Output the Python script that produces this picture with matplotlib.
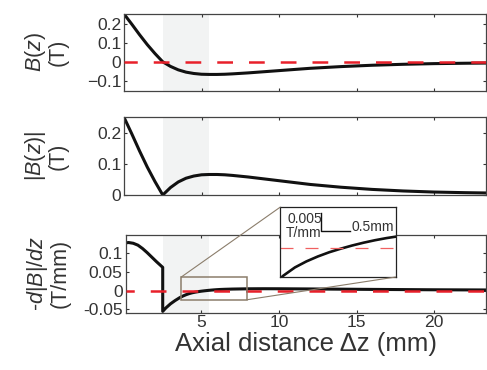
import matplotlib
matplotlib.use('Agg')
import matplotlib.pyplot as plt
from matplotlib.patches import Rectangle, ConnectionPatch

plt.rcParams['font.family'] = ['Liberation Sans', 'DejaVu Sans']
plt.rcParams['mathtext.fontset'] = 'custom'
plt.rcParams['mathtext.rm'] = 'Liberation Sans'
plt.rcParams['mathtext.it'] = 'Liberation Sans:italic'

# axial field B(z) (mm, T)
z_field = [0, 0.5, 1.0, 1.5, 2.0, 2.5, 3.0, 3.5, 4.0, 4.5, 5.0, 5.5, 6.0, 6.5,
           7.0, 8.0, 9.0, 10.0, 11.0, 12.0, 14.0, 16.0, 18.0, 20.0, 22.0, 23.4]
b_field = [0.25, 0.197, 0.142, 0.09, 0.043, 0.0, -0.024, -0.042, -0.054, -0.061,
           -0.065, -0.066, -0.066, -0.065, -0.063, -0.058, -0.052, -0.046, -0.040,
           -0.034, -0.025, -0.018, -0.013, -0.0095, -0.0075, -0.0065]
b_abs = [abs(v) for v in b_field]

# gradient -d|B|/dz (mm, T/mm)
z_grad = [0, 0.1, 0.3, 0.6, 0.9, 1.2, 1.5, 1.8, 2.1, 2.5, 2.5, 2.7, 3.0, 3.3, 3.6,
          3.8, 4.0, 4.2, 4.4, 4.6, 4.8, 5.0, 5.2, 5.4, 5.6, 5.8, 6.0, 6.2, 6.5,
          7.0, 8.0, 9.0, 10.0, 12.0, 14.0, 16.0, 18.0, 20.0, 22.0, 23.4]
grad = [0.125, 0.127, 0.128, 0.126, 0.121, 0.112, 0.101, 0.089, 0.077, 0.062,
        -0.055, -0.046, -0.035, -0.0262, -0.0185, -0.0143, -0.0108, -0.0079,
        -0.0056, -0.0039, -0.0025, -0.0013, -0.0003, 0.0006, 0.0014, 0.0021,
        0.0027, 0.0032, 0.0037, 0.0043, 0.0050, 0.0052, 0.0051, 0.0046, 0.0040,
        0.0034, 0.0029, 0.0024, 0.0021, 0.0019]

shade = (2.5, 5.5)
xticks = [5, 10, 15, 20]
top_yticks = [-0.1, 0, 0.1, 0.2]
top_ylabels = ['\u22120.1', '0', '0.1', '0.2']
mid_yticks = [0, 0.1, 0.2]
mid_ylabels = ['0', '0.1', '0.2']
bot_yticks = [-0.05, 0, 0.05, 0.1]
bot_ylabels = ['-0.05', '0', '0.05', '0.1']

txt = '#333333'
red = '#e8202a'
boxcol = '#8b7d6b'

fig = plt.figure(figsize=(4.87, 3.70), dpi=100)
ax1 = fig.add_axes([124 / 487, 1 - 90.5 / 370, 362 / 487, 76.5 / 370])
ax2 = fig.add_axes([124 / 487, 1 - 195 / 370, 362 / 487, 77.7 / 370])
ax3 = fig.add_axes([125.5 / 487, 1 - 312.5 / 370, 360.5 / 487, 77.5 / 370])

for ax in (ax1, ax2, ax3):
    ax.axvspan(shade[0], shade[1], color='#f2f3f3', lw=0, zorder=0)
    ax.set_xticks(xticks)
    ax.tick_params(direction='in', top=True, right=True, length=2.5, width=0.8,
                   color='#333333', labelsize=12.6, labelcolor=txt, pad=2)
    for s in ax.spines.values():
        s.set_color('#444444')
        s.set_linewidth(0.9)

# top: B(z)
ax1.plot(z_field, b_field, color='#111111', lw=2.2, zorder=2)
ax1.axhline(0, color=red, lw=1.8, ls=(1, (6.3, 6.4)), zorder=3)
ax1.set_xlim(0, 23.35)
ax1.set_ylim(-0.15, 0.25)
ax1.set_yticks(top_yticks, top_ylabels)
ax1.tick_params(labelbottom=False)
ax1.set_ylabel('$B(z)$\n(T)', fontsize=15.5, color=txt, linespacing=1.0)

# middle: |B(z)|
ax2.plot(z_field, b_abs, color='#111111', lw=2.2, zorder=2)
ax2.set_xlim(0, 23.35)
ax2.set_ylim(0, 0.25)
ax2.set_yticks(mid_yticks, mid_ylabels)
ax2.tick_params(labelbottom=False)
ax2.set_ylabel('$|B(z)|$\n(T)', fontsize=15.5, color=txt, linespacing=1.0)

# bottom: gradient
ax3.plot(z_grad, grad, color='#111111', lw=2.2, zorder=2)
ax3.axhline(0, color=red, lw=1.8, ls=(3, (6.3, 6.4)), zorder=3)
ax3.set_xlim(0.1, 23.35)
ax3.set_ylim(-0.058, 0.148)
ax3.set_yticks(bot_yticks, bot_ylabels)
ax3.set_ylabel('-$d|B|/dz$\n(T/mm)', fontsize=15.5, color=txt, linespacing=1.0)
ax3.set_xlabel('Axial distance \u0394z (mm)', fontsize=18.5, color=txt, labelpad=1)

for ax in (ax1, ax2, ax3):
    ax.yaxis.set_label_coords(-0.152, 0.5)

# zoom box and inset
ax3.add_patch(Rectangle((3.7, -0.024), 4.25, 0.0604, fill=False, ec=boxcol,
                        lw=1.1, zorder=4))

axin = fig.add_axes([280 / 487, 1 - 277 / 370, 115.7 / 487, 69.7 / 370])
axin.plot(z_grad, grad, color='#111111', lw=1.9)
axin.axhline(0, color='#f06060', lw=0.9, ls=(0, (10.4, 9.6)))
axin.set_xlim(4.14, 6.16)
axin.set_ylim(-0.0083, 0.0114)
axin.set_xticks([])
axin.set_yticks([])
for s in axin.spines.values():
    s.set_color('#222222')
    s.set_linewidth(0.9)

# scale bar: 0.005 T/mm vertical, 0.5 mm horizontal
sx, sy = 4.86, 0.0047
axin.plot([sx, sx, sx + 0.5], [sy + 0.005, sy, sy], color='#111111', lw=1.0)
axin.text(sx + 0.01, sy + 0.0054, '0.005\nT/mm', ha='right', va='top',
          fontsize=10, color=txt, linespacing=1.0)
axin.text(sx + 0.52, sy, '0.5mm', ha='left', va='baseline', fontsize=10, color=txt)

for xa, xb in (((3.7, 0.0364), (0, 1)), ((7.95, -0.024), (1, 0))):
    con = ConnectionPatch(xyA=xa, coordsA=ax3.transData, xyB=xb,
                          coordsB=axin.transAxes, color=boxcol, lw=0.8)
    fig.add_artist(con)

fig.savefig('out.png', dpi=100)
